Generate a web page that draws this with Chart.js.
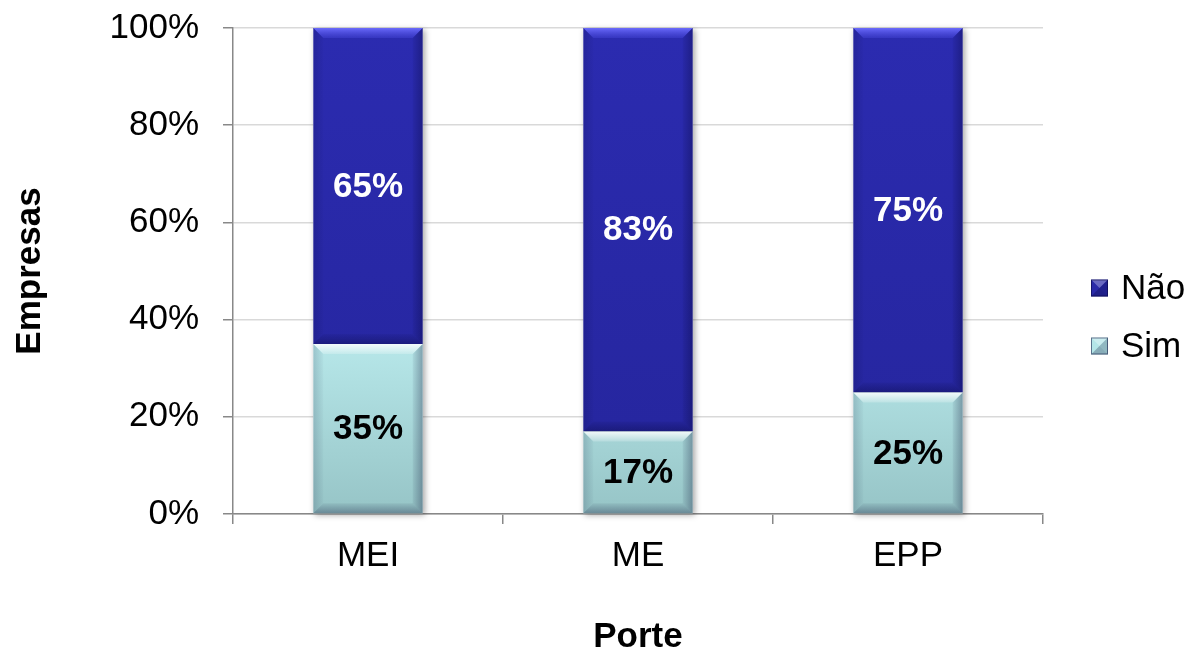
<!DOCTYPE html>
<html>
<head>
<meta charset="utf-8">
<script src="https://cdn.jsdelivr.net/npm/chart.js@4"></script>
<style>
  html, body { margin: 0; padding: 0; background: #fff; }
  #wrap { width: 1192px; height: 652px; }
</style>
</head>
<body>
<div id="wrap"><canvas id="chart" width="1192" height="652"></canvas></div>
<script>
const categories = ["MEI", "ME", "EPP"];
const simValues = [35, 17, 25];
const naoValues = [65, 83, 75];
const yTicks = [0, 20, 40, 60, 80, 100];

const FONT = "'Liberation Sans', Arial, sans-serif";
const NAO_COLOR = "#2a2aa8";
const SIM_COLOR = "#b4e6e8";

// soft bevel on each bar, like the office 3D style
const bevelPlugin = {
  id: "bevel",
  afterDatasetsDraw(chart) {
    const ctx = chart.ctx;
    chart.data.datasets.forEach((ds, di) => {
      const meta = chart.getDatasetMeta(di);
      meta.data.forEach(bar => {
        const { x, y, base, width } = bar.getProps(["x", "y", "base", "width"], true);
        const l = x - width / 2, r = x + width / 2, t = y, b = base;
        const d = 10;
        ctx.save();
        // top light band
        let g = ctx.createLinearGradient(0, t, 0, t + d);
        if (di === 1) {
          g.addColorStop(0, "rgba(110,110,255,0.95)");
          g.addColorStop(1, "rgba(80,80,230,0.3)");
        } else {
          g.addColorStop(0, "rgba(255,255,255,0.85)");
          g.addColorStop(1, "rgba(255,255,255,0.2)");
        }
        ctx.fillStyle = g;
        ctx.beginPath();
        ctx.moveTo(l, t); ctx.lineTo(r, t); ctx.lineTo(r - d, t + d); ctx.lineTo(l + d, t + d);
        ctx.closePath(); ctx.fill();
        // right dark edge
        g = ctx.createLinearGradient(r - d, 0, r, 0);
        g.addColorStop(0, "rgba(0,0,40,0.05)");
        g.addColorStop(1, "rgba(0,0,40,0.3)");
        ctx.fillStyle = g;
        ctx.beginPath();
        ctx.moveTo(r, t); ctx.lineTo(r, b); ctx.lineTo(r - d, b - d); ctx.lineTo(r - d, t + d);
        ctx.closePath(); ctx.fill();
        // left edge
        g = ctx.createLinearGradient(l, 0, l + d, 0);
        g.addColorStop(0, "rgba(0,0,40,0.15)");
        g.addColorStop(1, "rgba(0,0,40,0.02)");
        ctx.fillStyle = g;
        ctx.beginPath();
        ctx.moveTo(l, t); ctx.lineTo(l, b); ctx.lineTo(l + d, b - d); ctx.lineTo(l + d, t + d);
        ctx.closePath(); ctx.fill();
        // bottom dark band
        g = ctx.createLinearGradient(0, b - d, 0, b);
        g.addColorStop(0, "rgba(0,0,40,0.05)");
        g.addColorStop(1, "rgba(0,0,40,0.3)");
        ctx.fillStyle = g;
        ctx.beginPath();
        ctx.moveTo(l, b); ctx.lineTo(r, b); ctx.lineTo(r - d, b - d); ctx.lineTo(l + d, b - d);
        ctx.closePath(); ctx.fill();
        ctx.restore();
      });
    });
  }
};

const labelPlugin = {
  id: "segLabels",
  afterDatasetsDraw(chart) {
    const ctx = chart.ctx;
    ctx.save();
    ctx.font = "bold 35px " + FONT;
    ctx.textAlign = "center";
    ctx.textBaseline = "middle";
    chart.data.datasets.forEach((ds, di) => {
      chart.getDatasetMeta(di).data.forEach((bar, i) => {
        const { x, y, base } = bar.getProps(["x", "y", "base"], true);
        ctx.fillStyle = di === 1 ? "#ffffff" : "#000000";
        ctx.fillText(ds.data[i] + "%", x, (y + base) / 2 + 1);
      });
    });
    ctx.restore();
  }
};

// shadow behind bars
const shadowPlugin = {
  id: "barShadow",
  beforeDatasetsDraw(chart) {
    const ctx = chart.ctx;
    ctx.save();
    ctx.shadowColor = "rgba(0,0,0,0.35)";
    ctx.shadowBlur = 6;
    ctx.shadowOffsetX = 2;
    ctx.shadowOffsetY = 2;
    const m0 = chart.getDatasetMeta(0), m1 = chart.getDatasetMeta(1);
    m0.data.forEach((bar, i) => {
      const p0 = bar.getProps(["x", "base", "width"], true);
      const p1 = m1.data[i].getProps(["y"], true);
      ctx.fillStyle = "#ffffff";
      ctx.fillRect(p0.x - p0.width / 2, p1.y, p0.width, p0.base - p1.y);
    });
    ctx.restore();
  }
};

// legend on the right, drawn by hand so it sits like the original
const legendPlugin = {
  id: "sideLegend",
  afterDraw(chart) {
    const ctx = chart.ctx;
    const items = chart.data.datasets.map((ds, i) => ({ label: ds.label, color: i === 1 ? NAO_COLOR : SIM_COLOR })).reverse();
    const bx = chart.chartArea.right + 48;
    let cy = chart.height / 2 - 38;
    const s = 17;
    ctx.save();
    ctx.font = "35px " + FONT;
    ctx.textBaseline = "middle";
    ctx.textAlign = "left";
    items.forEach(it => {
      const x0 = bx, y0 = cy - s / 2, cx = bx + s / 2, cyy = cy;
      ctx.fillStyle = it.color;
      ctx.fillRect(x0, y0, s, s);
      const tri = (ax, ay, bx2, by, fill) => {
        ctx.fillStyle = fill;
        ctx.beginPath(); ctx.moveTo(ax, ay); ctx.lineTo(bx2, by); ctx.lineTo(cx, cyy); ctx.closePath(); ctx.fill();
      };
      tri(x0, y0, x0 + s, y0, "rgba(255,255,255,0.3)");
      tri(x0 + s, y0, x0 + s, y0 + s, "rgba(0,0,40,0.2)");
      tri(x0, y0 + s, x0 + s, y0 + s, "rgba(0,0,40,0.25)");
      ctx.strokeStyle = "rgba(0,0,50,0.5)";
      ctx.lineWidth = 1;
      ctx.strokeRect(x0 + 0.5, y0 + 0.5, s - 1, s - 1);
      ctx.fillStyle = "#000";
      ctx.fillText(it.label, bx + 30, cy + 1);
      cy += 58;
    });
    ctx.restore();
  }
};

function simFill(context) {
  const area = context.chart.chartArea;
  if (!area) return SIM_COLOR;
  const g = context.chart.ctx.createLinearGradient(0, area.top, 0, area.bottom);
  g.addColorStop(0, "#c4f4f6");
  g.addColorStop(0.6, "#bbecee");
  g.addColorStop(1, "#96c4c6");
  return g;
}

function naoFill(context) {
  const area = context.chart.chartArea;
  if (!area) return NAO_COLOR;
  const g = context.chart.ctx.createLinearGradient(0, area.top, 0, area.bottom);
  g.addColorStop(0, "#2b2bb0");
  g.addColorStop(1, "#25259c");
  return g;
}

new Chart(document.getElementById("chart"), {
  type: "bar",
  data: {
    labels: categories,
    datasets: [
      { label: "Sim", data: simValues, backgroundColor: simFill, borderWidth: 0 },
      { label: "Não", data: naoValues, backgroundColor: naoFill, borderWidth: 0 }
    ]
  },
  options: {
    responsive: false,
    animation: false,
    layout: { padding: { top: 28, right: 149, bottom: 0, left: 0 } },
    datasets: { bar: { categoryPercentage: 1, barPercentage: 0.405 } },
    scales: {
      x: {
        stacked: true,
        afterFit(scale) { scale.height = 138; scale.paddingLeft = 0; scale.paddingRight = 0; },
        grid: { offset: true, drawOnChartArea: false, tickLength: 10, tickColor: "#888888", lineWidth: 1.5 },
        border: { color: "#888888", width: 1.5 },
        ticks: { color: "#000", font: { family: FONT, size: 35, lineHeight: 1 }, padding: 15 },
        title: { display: true, text: "Porte", color: "#000", font: { family: FONT, size: 35, weight: "bold", lineHeight: "30px" }, padding: { top: 0, bottom: 0 } }
      },
      y: {
        stacked: true,
        min: 0,
        max: 100,
        afterBuildTicks(axis) { axis.ticks = yTicks.map(v => ({ value: v })); },
        afterFit(scale) { scale.width = 233; scale.paddingTop = 0; scale.paddingBottom = 0; },
        grid: { color: "#d9d9d9", tickLength: 10, tickColor: "#888888", lineWidth: 1.5 },
        border: { color: "#888888", width: 1.5 },
        ticks: { color: "#000", font: { family: FONT, size: 35 }, padding: 24, callback: v => v + "%" },
        title: { display: true, text: "Empresas", color: "#000", font: { family: FONT, size: 35, weight: "bold" }, padding: { top: 9, bottom: 0 } }
      }
    },
    plugins: {
      legend: { display: false },
      tooltip: { enabled: false }
    }
  },
  plugins: [shadowPlugin, bevelPlugin, labelPlugin, legendPlugin]
});
</script>
</body>
</html>
